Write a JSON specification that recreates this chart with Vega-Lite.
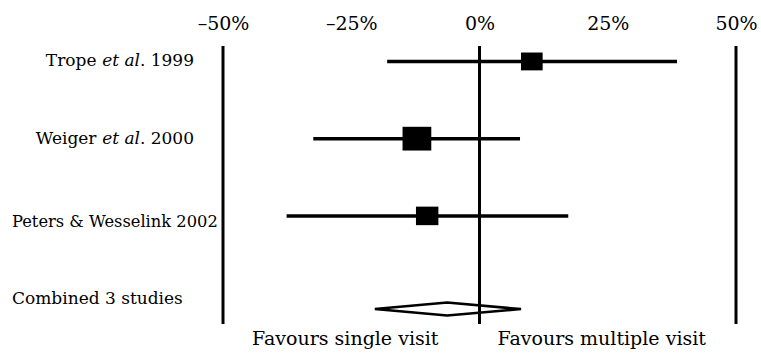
{
  "$schema": "https://vega.github.io/schema/vega-lite/v6.json",
  "width": 513,
  "height": 278,
  "autosize": {"type": "none"},
  "padding": {"left": 223, "top": 46, "right": 25, "bottom": 31},
  "background": "white",
  "config": {
    "view": {"stroke": null},
    "font": "DejaVu Serif",
    "text": {"font": "DejaVu Serif", "color": "black"}
  },
  "datasets": {
    "studies": [
      {"label": "Trope et al. 1999", "author": "Trope", "etal": "et al", "year": ". 1999", "row": 1, "est": 10.2, "lo": -18.0, "hi": 38.5, "weight": 26},
      {"label": "Weiger et al. 2000", "author": "Weiger", "etal": "et al", "year": ". 2000", "row": 2, "est": -12.2, "lo": -32.4, "hi": 7.9, "weight": 46},
      {"label": "Peters & Wesselink 2002", "author": "Peters & Wesselink", "etal": "", "year": " 2002", "row": 3, "est": -10.2, "lo": -37.6, "hi": 17.3, "weight": 28}
    ],
    "combined": [
      {"label": "Combined 3 studies", "vertex": 1, "x": -20.4, "y": 4.207},
      {"label": "Combined 3 studies", "vertex": 2, "x": -6.3, "y": 4.123},
      {"label": "Combined 3 studies", "vertex": 3, "x": 8.1, "y": 4.207},
      {"label": "Combined 3 studies", "vertex": 4, "x": -6.3, "y": 4.291}
    ],
    "refs": [{"x": -50}, {"x": 0}, {"x": 50}],
    "favours": [
      {"text": "Favours single visit", "x": -25},
      {"text": "Favours multiple visit", "x": 25}
    ]
  },
  "layer": [
    {
      "data": {"name": "refs"},
      "mark": {"type": "rule", "strokeWidth": 3, "color": "black"},
      "encoding": {
        "x": {
          "field": "x", "type": "quantitative",
          "scale": {"domain": [-50, 50], "nice": false, "zero": false},
          "axis": {
            "orient": "top", "values": [-50, -25, 0, 25, 50],
            "domain": false, "ticks": false, "grid": false, "title": null,
            "labelFont": "DejaVu Serif", "labelFontSize": 19, "labelColor": "black",
            "labelPadding": 13, "labelFlush": false, "labelOverlap": false,
            "labelExpr": "(datum.value < 0 ? '\u2013' + abs(datum.value) : datum.value) + '%'"
          }
        },
        "y": {"datum": 0.8, "type": "quantitative", "scale": {"domain": [0.8, 4.4], "nice": false, "zero": false, "reverse": true}, "axis": null},
        "y2": {"datum": 4.4}
      }
    },
    {
      "data": {"name": "studies"},
      "mark": {"type": "rule", "strokeWidth": 3.5, "color": "black"},
      "encoding": {
        "x": {"field": "lo", "type": "quantitative"},
        "x2": {"field": "hi"},
        "y": {"field": "row", "type": "quantitative"}
      }
    },
    {
      "data": {"name": "studies"},
      "mark": {"type": "point", "filled": true, "color": "black", "opacity": 1, "shape": "M -1.15 -0.95 H 1.15 V 0.95 H -1.15 Z"},
      "encoding": {
        "x": {"field": "est", "type": "quantitative"},
        "y": {"field": "row", "type": "quantitative"},
        "size": {"field": "weight", "type": "quantitative", "scale": {"domain": [0, 46], "range": [0, 625]}, "legend": null}
      }
    },
    {
      "data": {"name": "combined"},
      "mark": {"type": "line", "interpolate": "linear-closed", "strokeWidth": 2.5, "color": "black", "strokeJoin": "bevel"},
      "encoding": {
        "x": {"field": "x", "type": "quantitative"},
        "y": {"field": "y", "type": "quantitative"},
        "order": {"field": "vertex", "type": "quantitative"}
      }
    },
    {
      "data": {"name": "studies"},
      "transform": [{"filter": "datum.row <= 2"}],
      "mark": {"type": "text", "align": "right", "baseline": "middle", "fontSize": 17, "dx": -29},
      "encoding": {
        "x": {"datum": -50},
        "y": {"field": "row", "type": "quantitative"},
        "text": {"field": "year"}
      }
    },
    {
      "data": {"name": "studies"},
      "transform": [{"filter": "datum.row <= 2"}],
      "mark": {"type": "text", "align": "right", "baseline": "middle", "fontSize": 17, "fontStyle": "italic", "dx": -83},
      "encoding": {
        "x": {"datum": -50},
        "y": {"field": "row", "type": "quantitative"},
        "text": {"field": "etal"}
      }
    },
    {
      "data": {"name": "studies"},
      "transform": [{"filter": "datum.row <= 2"}],
      "mark": {"type": "text", "align": "right", "baseline": "middle", "fontSize": 17, "dx": -126.5},
      "encoding": {
        "x": {"datum": -50},
        "y": {"field": "row", "type": "quantitative"},
        "text": {"field": "author"}
      }
    },
    {
      "data": {"name": "studies"},
      "transform": [{"filter": "datum.row == 3"}],
      "mark": {"type": "text", "align": "left", "baseline": "middle", "fontSize": 16.3, "dx": -211, "dy": 6},
      "encoding": {
        "x": {"datum": -50},
        "y": {"field": "row", "type": "quantitative"},
        "text": {"field": "label"}
      }
    },
    {
      "data": {"name": "combined"},
      "transform": [{"filter": "datum.vertex == 1"}],
      "mark": {"type": "text", "align": "left", "baseline": "middle", "fontSize": 17, "dx": -211, "dy": -10},
      "encoding": {
        "x": {"datum": -50},
        "y": {"field": "y", "type": "quantitative"},
        "text": {"field": "label"}
      }
    },
    {
      "data": {"name": "favours"},
      "mark": {"type": "text", "align": "center", "baseline": "top", "fontSize": 19, "dx": -6, "dy": 6},
      "encoding": {
        "x": {"field": "x", "type": "quantitative"},
        "y": {"datum": 4.4},
        "text": {"field": "text"}
      }
    }
  ]
}
